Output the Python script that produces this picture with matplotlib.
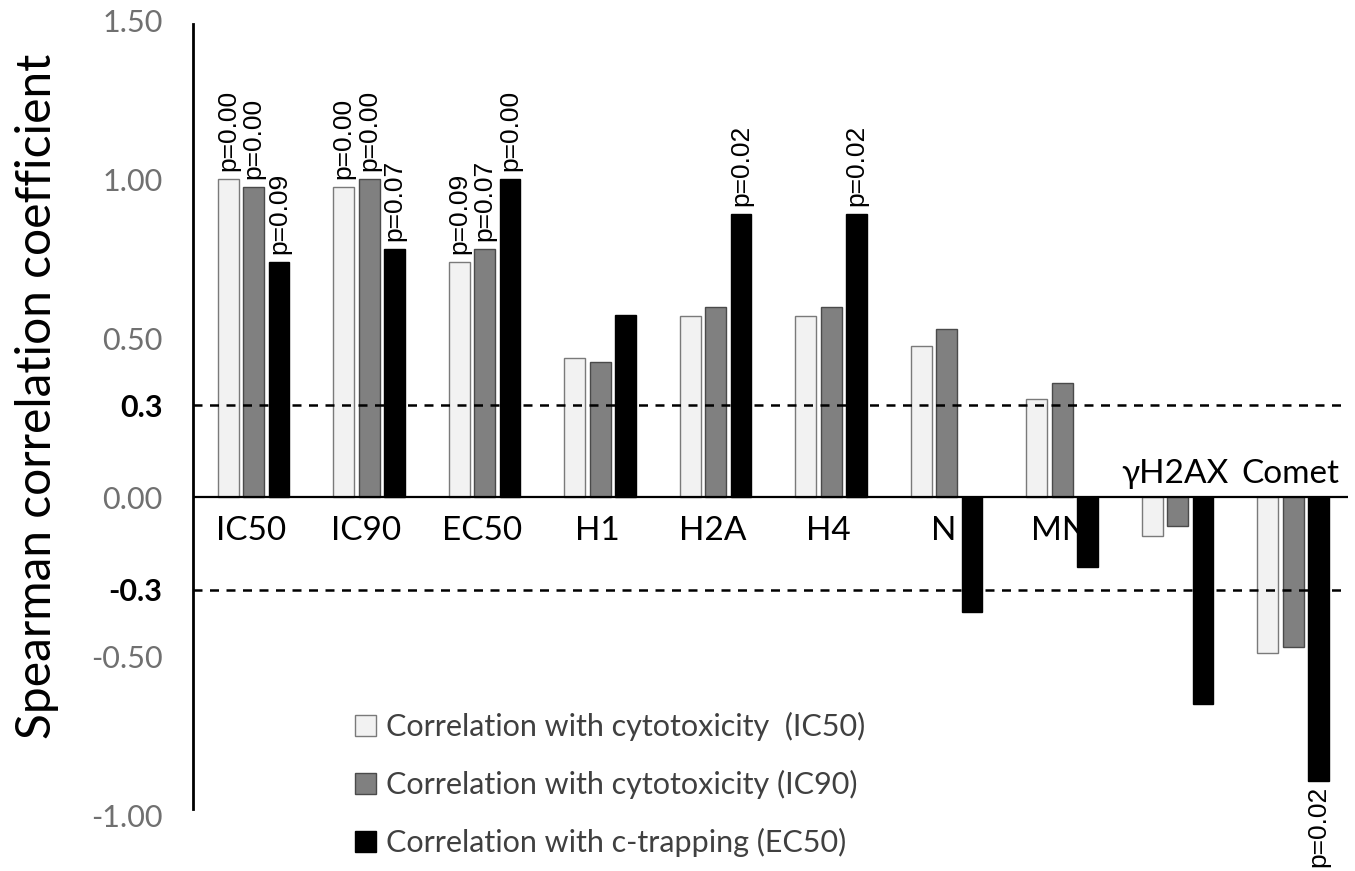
import matplotlib
matplotlib.use('Agg')
import matplotlib.pyplot as plt
from matplotlib.patches import Patch
import numpy as np

# values
categories = ['IC50', 'IC90', 'EC50', 'H1', 'H2A', 'H4', 'N', 'MN', '\u03b3H2AX', 'Comet']
corr_ic50 = [1.00, 0.975, 0.74, 0.44, 0.57, 0.57, 0.475, 0.31, -0.12, -0.49]
corr_ic90 = [0.975, 1.00, 0.78, 0.425, 0.60, 0.60, 0.53, 0.36, -0.09, -0.47]
corr_ec50 = [0.74, 0.78, 1.00, 0.575, 0.89, 0.89, -0.36, -0.22, -0.65, -0.89]

# p-values printed over the bars (None = no label)
p_ic50 = ['p=0.00', 'p=0.00', 'p=0.09', None, None, None, None, None, None, None]
p_ic90 = ['p=0.00', 'p=0.00', 'p=0.07', None, None, None, None, None, None, None]
p_ec50 = ['p=0.09', 'p=0.07', 'p=0.00', None, 'p=0.02', 'p=0.02', None, None, None, 'p=0.02']

series_names = ['Correlation with cytotoxicity  (IC50)',
                'Correlation with cytotoxicity (IC90)',
                'Correlation with c-trapping (EC50)']

threshold = 0.29  # dashed lines, labelled 0.3 in the figure
yticks = [-1.0, -0.5, 0.0, 0.5, 1.0, 1.5]

# in the figure the p-labels of the first three groups run across the group
p_labels = [[p_ic50[0], p_ic50[1], p_ic50[2]],
            [p_ic90[0], p_ic90[1], p_ic90[2]],
            [p_ec50[0], p_ec50[1], p_ec50[2]]] + \
           [[None, None, p_ec50[i]] for i in range(3, len(categories))]

fig = plt.figure(figsize=(13.55, 8.71), dpi=100)
ax = fig.add_axes([193 / 1355, 1 - 815.5 / 871, 1155 / 1355, (815.5 - 20.5) / 871])

x = np.arange(len(categories))
w = 0.18
offsets = [-0.195, 0.025, 0.245]
faces = ['#f2f2f2', '#808080', '#000000']
edges = ['#7a7a7a', '#4a4a4a', '#000000']
data = [corr_ic50, corr_ic90, corr_ec50]

for k in range(3):
    ax.bar(x + offsets[k], data[k], width=w, color=faces[k],
           edgecolor=edges[k], linewidth=1.0, zorder=2)

ax.set_xlim(-0.5, len(categories) - 0.5)
ax.set_ylim(-1.0, 1.5)

ax.axhline(0, color='black', lw=1.6, zorder=3)
for t in (threshold, -threshold):
    ax.axhline(t, color='black', lw=1.8, ls=(0, (3.6, 3.0)), zorder=4)

for s in ['top', 'right', 'bottom']:
    ax.spines[s].set_visible(False)
ax.spines['left'].set_linewidth(2)
ax.spines['left'].set_bounds(-0.98, 1.49)
ax.set_xticks([])

ticks = yticks + [threshold, -threshold]
labels = ['%.2f' % v for v in yticks] + ['0.3', '-0.3']
ax.set_yticks(ticks)
ax.set_yticklabels(labels)
ax.tick_params(axis='y', length=0, pad=22)
for lab, v in zip(ax.get_yticklabels(), ticks):
    lab.set_fontfamily('Lato')
    lab.set_fontsize(22)
    if v in (threshold, -threshold):
        lab.set_color('black')
        lab.set_fontweight('bold')
    else:
        lab.set_color('#707070')

# category labels: below zero line, or above it when the bars hang down
for i, name in enumerate(categories):
    neg = max(corr_ic50[i], corr_ic90[i]) < 0
    if neg:
        ax.annotate(name, (x[i], 0), xytext=(0, 6), textcoords='offset points',
                    ha='center', va='bottom', fontsize=24, family='Lato', color='black')
    else:
        ax.annotate(name, (x[i], 0), xytext=(0, -13), textcoords='offset points',
                    ha='center', va='top', fontsize=24, family='Lato', color='black')

# p-value labels
for i in range(len(categories)):
    for k in range(3):
        txt = p_labels[i][k]
        if txt is None:
            continue
        v = data[k][i]
        if v >= 0:
            ax.annotate(txt, (x[i] + offsets[k], v), xytext=(0, 6), textcoords='offset points',
                        rotation=90, ha='center', va='bottom', fontsize=19,
                        family='Liberation Sans')
        else:
            ax.annotate(txt, (x[i] + offsets[k], v), xytext=(0, -4), textcoords='offset points',
                        rotation=90, ha='center', va='top', fontsize=19,
                        family='Liberation Sans')

handles = [Patch(facecolor=faces[k], edgecolor=edges[k], linewidth=1.0) for k in range(3)]
fig.legend(handles, series_names, loc='upper left', bbox_to_anchor=(355 / 1355, 1 - 712 / 871),
           frameon=False, prop={'family': 'Lato', 'size': 22}, labelcolor='#404040',
           handlelength=0.68, handleheight=0.68, handletextpad=0.35, labelspacing=0.95,
           borderpad=0, borderaxespad=0)

fig.text(37 / 1355, 1 - 396 / 871, 'Spearman correlation coefficient', rotation=90,
         ha='center', va='center', fontsize=34.5, family='Lato', color='black')

fig.savefig('out.png', dpi=100)
